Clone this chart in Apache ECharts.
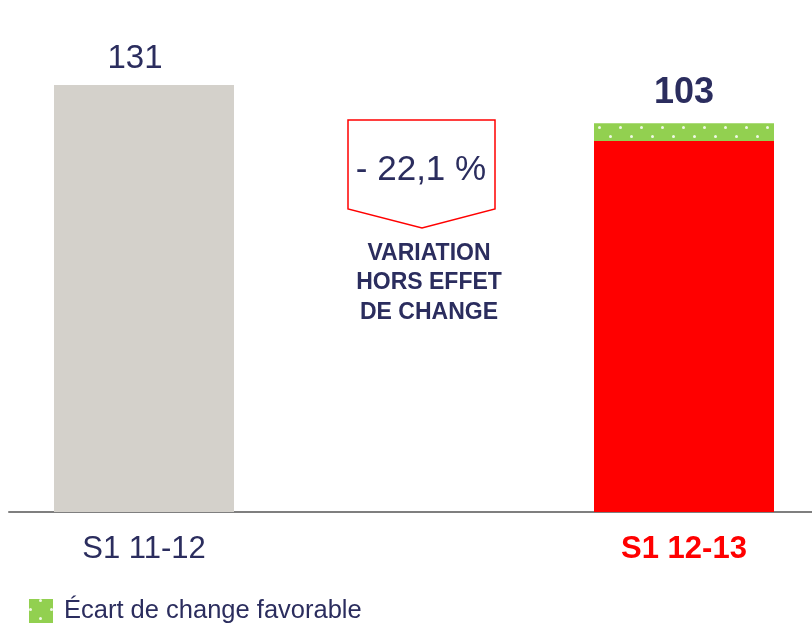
<!DOCTYPE html>
<html>
<head>
<meta charset="utf-8">
<script src="https://cdn.jsdelivr.net/npm/echarts@6/dist/echarts.min.js"></script>
<style>
	html, body { margin: 0; padding: 0; background: #fff; }
	#chart { width: 812px; height: 623px; }
</style>
</head>
<body>
<div id="chart"></div>
<script>
// catégories (la colonne du milieu reste vide pour l'encadré)
const categories = ['S1 11-12', '', 'S1 12-13'];
// hauteur des barres
const baseValues = [131, '-', 113.8];
const fxValues = ['-', '-', 5.5];
// étiquettes affichées au-dessus des barres
const totalLabels = ['131', '', '103'];
const variationText = '- 22,1 %';
const variationNote = ['VARIATION', 'HORS EFFET', 'DE CHANGE'];
const fxName = 'Écart de change favorable';

const navy = '#2b2d5e';
const font = 'Liberation Sans, Arial, sans-serif';
const baseColors = ['#d4d1cb', '#d4d1cb', '#ff0000'];

let myChart = echarts.init(document.getElementById('chart'));

myChart.setOption({
	animation: false,
	textStyle: { fontFamily: font },
	grid: { left: 9, right: -7, top: 85, bottom: 111, containLabel: false, outerBoundsMode: 'none' },
	legend: {
		data: [fxName],
		left: 24, top: 593,
		itemWidth: 24, itemHeight: 24,
		itemGap: 10,
		icon: 'rect',
		textStyle: { fontSize: 25.5, color: navy, fontFamily: font, padding: [0, 0, 0, 6] }
	},
	xAxis: {
		type: 'category',
		data: categories,
		axisLine: { lineStyle: { color: '#7f7f7f', width: 2 } },
		axisTick: { show: false },
		axisLabel: {
			margin: 22,
			fontSize: 31,
			color: navy,
			formatter: function (v, i) { return i === 2 ? '{b|' + v + '}' : v; },
			rich: { b: { fontSize: 31, fontWeight: 'bold', color: '#ff0000' } }
		}
	},
	yAxis: {
		type: 'value', min: 0, max: 131,
		show: false, splitLine: { show: false }
	},
	series: [
		{
			name: 'base',
			type: 'bar',
			stack: 'total',
			barWidth: 180,
			data: baseValues.map(function (v, i) {
				return {
					value: v,
					itemStyle: { color: baseColors[i] },
					label: { show: i === 0, formatter: totalLabels[i] }
				};
			}),
			label: { position: 'top', distance: 10, offset: [-9, 0], fontSize: 33, color: navy }
		},
		{
			name: fxName,
			type: 'bar',
			stack: 'total',
			barWidth: 180,
			itemStyle: {
				color: '#92d050',
				decal: {
					symbol: 'circle',
					symbolSize: 1,
					color: 'rgba(255,255,255,0.85)',
					dashArrayX: [[3, 18], [0, 10, 3, 8]],
					dashArrayY: [3, 6]
				}
			},
			data: fxValues.map(function (v, i) {
				return {
					value: v,
					label: { show: i === 2, formatter: totalLabels[i] }
				};
			}),
			label: { position: 'top', distance: 12, fontSize: 36, fontWeight: 'bold', color: navy }
		}
	],
	graphic: [
		{
			type: 'polygon',
			shape: { points: [[348, 120], [495, 120], [495, 209], [422, 228], [348, 209]] },
			style: { fill: '#fff', stroke: '#ff0000', lineWidth: 1.5 }
		},
		{
			type: 'text',
			x: 421, y: 170,
			style: {
				text: variationText, fontSize: 35, fill: navy,
				fontFamily: font,
				align: 'center', verticalAlign: 'middle'
			}
		},
		{
			type: 'text',
			x: 429, y: 283,
			style: {
				text: variationNote.join('\n'), fontSize: 23, fontWeight: 'bold', fill: navy,
				fontFamily: font,
				lineHeight: 29.5,
				align: 'center', verticalAlign: 'middle'
			}
		}
	]
});
</script>
</body>
</html>
